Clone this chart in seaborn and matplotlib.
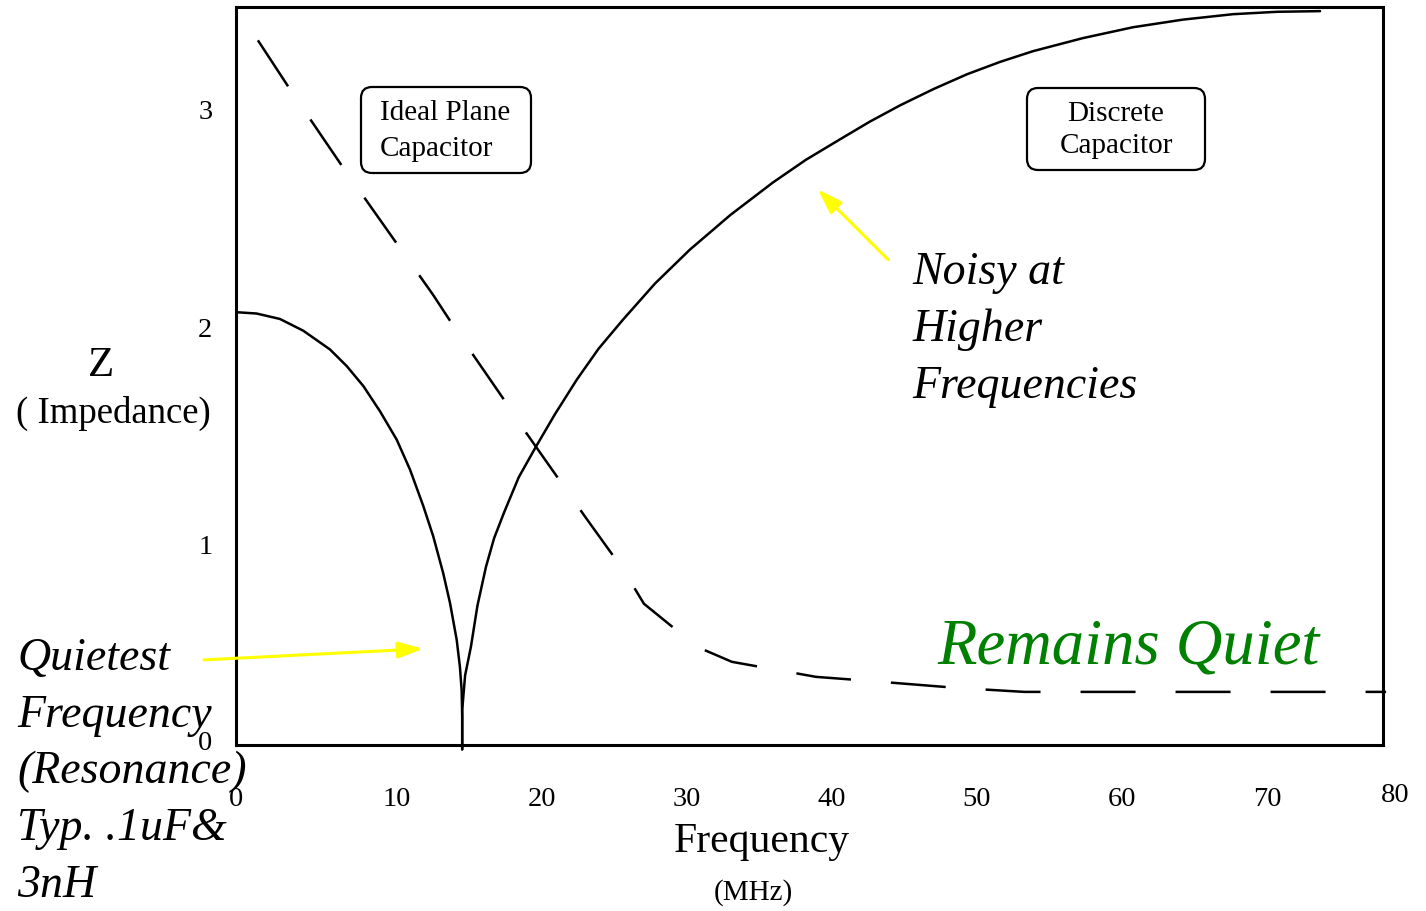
import matplotlib
matplotlib.use("Agg")
import matplotlib.pyplot as plt
import seaborn as sns
import pandas as pd
from matplotlib.patches import FancyBboxPatch

# ideal plane capacitor (solid, dips to zero at resonance)
plane_mhz = [-1.06, 0.32, 1.93, 3.54, 5.38, 6.53, 7.68, 8.83, 9.98, 10.90, 11.82, 12.50,
             13.19, 13.66, 14.12, 14.34, 14.46, 14.50, 14.50]
plane_z = [2.068, 2.062, 2.037, 1.983, 1.897, 1.821, 1.729, 1.613, 1.483, 1.345, 1.177, 1.039,
           0.869, 0.732, 0.563, 0.440, 0.333, 0.211, 0.06]

# rising branch after resonance (solid)
rise_mhz = [14.50, 14.50, 14.70, 15.10, 15.55, 16.14, 16.70, 17.38, 18.40, 19.59, 20.90, 22.41,
            23.90, 25.59, 27.80, 30.21, 33.00, 35.93, 38.20, 40.55, 42.60, 44.69, 47.00, 49.31,
            51.60, 53.86, 57.30, 60.76, 64.20, 67.66, 70.70, 73.66]
rise_z = [0.06, 0.241, 0.40, 0.531, 0.72, 0.899, 1.03, 1.147, 1.31, 1.451, 1.60, 1.759,
          1.90, 2.034, 2.20, 2.356, 2.515, 2.664, 2.768, 2.862, 2.943, 3.018, 3.093, 3.161,
          3.218, 3.267, 3.327, 3.377, 3.412, 3.437, 3.448, 3.451]

# discrete capacitor (dashed)
disc_mhz = [0.41, 2.90, 6.28, 9.79, 12.48, 14.28, 17.24, 18.90, 21.72, 22.97, 25.66, 27.03,
            30.69, 33.10, 38.90, 42.48, 48.48, 53.24, 78.21]
disc_z = [3.317, 3.064, 2.733, 2.402, 2.149, 1.966, 1.680, 1.515, 1.248, 1.129, 0.880, 0.729,
          0.531, 0.462, 0.393, 0.375, 0.343, 0.324, 0.324]

xtick_vals = [-1.1, 10, 20, 30, 40, 50, 60, 70]
xtick_labels = ["0", "10", "20", "30", "40", "50", "60", "70"]
ytick_vals = [0.1, 1, 2, 3]
ytick_labels = ["0", "1", "2", "3"]

sns.set_style("white")
plt.rcParams["font.family"] = ["Liberation Serif", "DejaVu Serif"]
plt.rcParams["text.color"] = "black"
plt.rcParams["xtick.color"] = "black"
plt.rcParams["ytick.color"] = "black"

W, H = 1426, 911
fig = plt.figure(figsize=(W / 100, H / 100), dpi=100)
ax = fig.add_axes([236 / W, 1 - 745 / H, (1383 - 236) / W, (745 - 7) / H])


def fx(px):
    return px / W


def fy(py):
    return 1 - py / H


df_plane = pd.DataFrame({"f": plane_mhz, "z": plane_z})
df_rise = pd.DataFrame({"f": rise_mhz, "z": rise_z})
df_disc = pd.DataFrame({"f": disc_mhz, "z": disc_z})

sns.lineplot(data=df_plane, x="f", y="z", ax=ax, color="black", lw=1.8,
             estimator=None, sort=False, clip_on=False)
sns.lineplot(data=df_rise, x="f", y="z", ax=ax, color="black", lw=1.8,
             estimator=None, sort=False, clip_on=False)
sns.lineplot(data=df_disc, x="f", y="z", ax=ax, color="black", lw=1.8,
             estimator=None, sort=False, clip_on=False, linestyle=(0, (22, 16)))

ax.set_xlim(-1.1, 78.0)
ax.set_ylim(0.08, 3.47)
ax.set_xticks(xtick_vals)
ax.set_xticklabels(xtick_labels)
ax.set_yticks(ytick_vals)
ax.set_yticklabels(ytick_labels)
ax.tick_params(axis="x", length=0, pad=30.5, labelsize=20.5)
ax.tick_params(axis="y", length=0, pad=17, labelsize=20.5)
ax.set_xlabel("")
ax.set_ylabel("")
for s in ax.spines.values():
    s.set_color("black")
    s.set_linewidth(2.2)
fig.text(fx(1395), fy(796), "80", fontsize=20.5, ha="center", va="center")

# axis titles
fig.text(fx(101), fy(366), "Z", fontsize=31, ha="center", va="center")
fig.text(fx(113), fy(413), "( Impedance)", fontsize=26.5, ha="center", va="center")
fig.text(fx(762), fy(842), "Frequency", fontsize=30, ha="center", va="center")
fig.text(fx(753), fy(893), "(MHz)", fontsize=21, ha="center", va="center")

# label boxes
for x0, y0, x1, y1 in [(361, 87, 531, 173), (1027, 88, 1205, 170)]:
    box = FancyBboxPatch((x0 / 100, (H - y1) / 100), (x1 - x0) / 100, (y1 - y0) / 100,
                         boxstyle="round,pad=0,rounding_size=0.11",
                         transform=fig.dpi_scale_trans, fc="none", ec="black", lw=1.6)
    fig.add_artist(box)
fig.text(fx(380), fy(131), "Ideal Plane\nCapacitor", fontsize=21, ha="left",
         va="center", linespacing=1.5)
fig.text(fx(1116), fy(130), "Discrete\nCapacitor", fontsize=21, ha="center",
         va="center", multialignment="center", linespacing=1.3)

# annotations (baseline = last line for multi-line text)
fig.text(fx(912), fy(398), "Noisy at\nHigher\nFrequencies", fontsize=33,
         style="italic", ha="left", va="baseline", linespacing=1.44)
fig.text(fx(17), fy(897), "Quietest\nFrequency\n(Resonance)\nTyp. .1uF&\n3nH",
         fontsize=33, style="italic", ha="left", va="baseline", linespacing=1.44)
fig.text(fx(937), fy(663), "Remains Quiet", fontsize=46.5, style="italic",
         color="#008000", ha="left", va="baseline")

arrow = dict(arrowstyle="-|>,head_length=1.5,head_width=0.5", color="yellow",
             lw=2.2, shrinkA=0, shrinkB=0)
ax.annotate("", xy=(39.03, 2.632), xytext=(43.86, 2.310), arrowprops=arrow,
            annotation_clip=False)
ax.annotate("", xy=(11.79, 0.522), xytext=(-3.31, 0.471), arrowprops=arrow,
            annotation_clip=False)

fig.savefig("out.png", dpi=100, facecolor="white")
